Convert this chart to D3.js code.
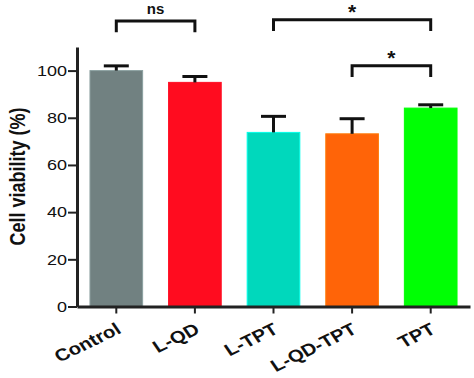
<!DOCTYPE html>
<html>
<head>
<meta charset="utf-8">
<script src="https://cdn.jsdelivr.net/npm/d3@7"></script>
<style>
  body { margin: 0; background: #fff; }
  text { font-family: "Liberation Sans", Arial, sans-serif; }
</style>
</head>
<body>
<div id="chart"></div>
<script>
// data
const groups = ["Control", "L-QD", "L-TPT", "L-QD-TPT", "TPT"];
const means = [100, 95, 73.8, 73.2, 84.1];
const errs = [2, 2.5, 6.8, 6.4, 1.4];
const colors = ["#718181", "#ff0c1f", "#00d8bc", "#ff6408", "#00ff04"];
const yTicks = [0, 20, 40, 60, 80, 100];
// significance brackets: from, to, label, level (in y units)
const sigFrom = ["Control", "L-TPT", "L-QD-TPT"];
const sigTo = ["L-QD", "TPT", "TPT"];
const sigLabel = ["ns", "*", "*"];
const sigLevel = [121, 121.5, 102];

const W = 474, H = 378;
const margin = {top: 47, right: 4, bottom: 71.5, left: 77};
const stretch = 1.2; // the original figure is a bit wide, text looks stretched

const svg = d3.select("#chart").append("svg")
  .attr("width", W).attr("height", H);

const x = d3.scaleBand()
  .domain(groups)
  .range([margin.left, W - margin.right])
  .paddingInner(0.33)
  .paddingOuter(0.165);

const y = d3.scaleLinear()
  .domain([0, 110])
  .range([H - margin.bottom, margin.top]);

const data = groups.map((g, i) => ({g: g, m: means[i], e: errs[i], c: colors[i]}));

// bars
svg.selectAll(".bar").data(data).enter().append("rect")
  .attr("x", d => x(d.g))
  .attr("y", d => y(d.m))
  .attr("width", x.bandwidth())
  .attr("height", d => y(0) - y(d.m))
  .attr("fill", d => d.c)
  .attr("stroke", d => d3.color(d.c).brighter(0.6))
  .attr("stroke-width", 1);

// error bars (upper only)
const cap = 12.5;
const eb = svg.selectAll(".err").data(data).enter().append("g");
eb.append("line")
  .attr("x1", d => x(d.g) + x.bandwidth() / 2)
  .attr("x2", d => x(d.g) + x.bandwidth() / 2)
  .attr("y1", d => y(d.m))
  .attr("y2", d => y(d.m + d.e))
  .attr("stroke", "#111").attr("stroke-width", 3);
eb.append("line")
  .attr("x1", d => x(d.g) + x.bandwidth() / 2 - cap)
  .attr("x2", d => x(d.g) + x.bandwidth() / 2 + cap)
  .attr("y1", d => y(d.m + d.e))
  .attr("y2", d => y(d.m + d.e))
  .attr("stroke", "#111").attr("stroke-width", 3);

// y axis
const yAxis = svg.append("g")
  .attr("transform", "translate(" + margin.left + ",0)")
  .call(d3.axisLeft(y).tickValues(yTicks).tickSize(9).tickPadding(2).tickSizeOuter(0));
yAxis.select(".domain").attr("stroke", "#222").attr("stroke-width", 3);
yAxis.selectAll(".tick line").attr("stroke", "#222").attr("stroke-width", 2);
yAxis.selectAll(".tick text")
  .attr("fill", "#111")
  .attr("x", 0)
  .attr("transform", "translate(-10,0) scale(" + stretch + ",1)")
  .style("font-size", "15px")
  .style("font-family", "Liberation Sans, Arial, sans-serif");

// x axis
const xAxis = svg.append("g")
  .attr("transform", "translate(0," + y(0) + ")")
  .call(d3.axisBottom(x).tickSize(7).tickSizeOuter(0));
xAxis.select(".domain").attr("stroke", "#222").attr("stroke-width", 3);
xAxis.selectAll(".tick line").attr("stroke", "#222").attr("stroke-width", 2);
xAxis.selectAll(".tick text")
  .attr("fill", "#111")
  .attr("text-anchor", "end")
  .attr("dy", 0)
  .attr("y", 0)
  .attr("transform", "translate(6,26) scale(" + stretch + ",1) rotate(-30)")
  .style("font-size", "17px")
  .style("font-weight", "bold")
  .style("font-family", "Liberation Sans, Arial, sans-serif");

// y title
svg.append("text")
  .attr("transform", "translate(25,176.5) scale(" + stretch + ",1) rotate(-90)")
  .attr("text-anchor", "middle")
  .attr("fill", "#111")
  .style("font-size", "18px")
  .style("font-weight", "bold")
  .text("Cell viability (%)");

// significance brackets
const drop = 4.7;
sigFrom.forEach((f, i) => {
  const x1 = x(f) + x.bandwidth() / 2;
  const x2 = x(sigTo[i]) + x.bandwidth() / 2;
  const yl = y(sigLevel[i]);
  const yd = y(sigLevel[i] - drop);
  svg.append("path")
    .attr("d", "M" + x1 + "," + yd + "V" + yl + "H" + x2 + "V" + yd)
    .attr("fill", "none")
    .attr("stroke", "#111")
    .attr("stroke-width", 3);
  const isStar = sigLabel[i] === "*";
  svg.append("text")
    .attr("x", (x1 + x2) / 2)
    .attr("y", isStar ? yl - 1 : yl - 7)
    .attr("text-anchor", "middle")
    .attr("fill", "#111")
    .style("font-size", isStar ? "21px" : "15px")
    .style("font-weight", "bold")
    .text(sigLabel[i]);
});
</script>
</body>
</html>
